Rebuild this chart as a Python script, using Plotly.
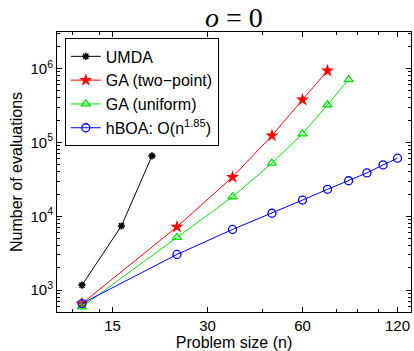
import plotly.graph_objects as go
import math

# Data
umda_n = [12, 16, 20]
umda_evals = [1170, 7400, 65800]

ga2_n = [12, 24, 36, 48, 60, 72]
ga2_evals = [660, 7200, 34000, 124000, 378000, 935000]

gau_n = [12, 24, 36, 48, 60, 72, 84]
gau_evals = [594, 5190, 18400, 52400, 131000, 324000, 708000]

hboa_n = [12, 24, 36, 48, 60, 72, 84, 96, 108, 120]
hboa_evals = [660, 3050, 6640, 11000, 16600, 23200, 30300, 38700, 49700, 61200]

x_ticks = [15, 30, 60, 120]
x_minor = [11.2, 13.6, 44.8, 76.9, 89.9, 104.3]
y_exps = [3, 4, 5, 6]
y_ticks = [10 ** e for e in y_exps]
y_ticktext = ["10<sup>%d</sup>" % e for e in y_exps]
y_minor = [m * 10 ** d for d in range(2, 7) for m in range(2, 10)]

FONT = "Liberation Sans, Arial, sans-serif"

fig = go.Figure()
fig.add_trace(go.Scatter(
    x=umda_n, y=umda_evals, name="UMDA", mode="lines+markers",
    line=dict(color="black", width=1),
    marker=dict(symbol="asterisk-open", size=6, color="black", line=dict(width=1.6, color="black"))))
fig.add_trace(go.Scatter(
    x=ga2_n, y=ga2_evals, name="GA (two\u2212point)", mode="lines+markers",
    line=dict(color="#ff0000", width=1),
    marker=dict(symbol="star", size=10, color="#ff0000", line=dict(width=0))))
fig.add_trace(go.Scatter(
    x=gau_n, y=gau_evals, name="GA (uniform)", mode="lines+markers",
    line=dict(color="#00e000", width=1),
    marker=dict(symbol="triangle-up-open", size=8, color="#00e000", line=dict(width=1.3))))
fig.add_trace(go.Scatter(
    x=hboa_n, y=hboa_evals, name="hBOA: O(n<sup>1.85</sup>)", mode="lines+markers",
    line=dict(color="#0000ff", width=1),
    marker=dict(symbol="circle-open", size=8, color="#0000ff", line=dict(width=1.3))))

axis_common = dict(
    showline=True, linecolor="black", linewidth=1, mirror="ticks",
    ticks="inside", ticklen=5, tickcolor="black", showgrid=False, zeroline=False,
    tickfont=dict(family=FONT, size=15, color="black"),
)

fig.update_xaxes(
    type="log", range=[math.log10(10.0), 2.122],
    tickmode="array", tickvals=x_ticks, ticktext=[str(v) for v in x_ticks],
    minor=dict(tickmode="array", tickvals=x_minor, ticks="inside", ticklen=3, tickcolor="black"),
    title=dict(text="Problem size (n)", font=dict(family=FONT, size=16, color="black"), standoff=1),
    **axis_common)
fig.update_yaxes(
    type="log", range=[2.705, 6.495],
    tickmode="array", tickvals=y_ticks, ticktext=y_ticktext,
    minor=dict(tickmode="array", tickvals=y_minor, ticks="inside", ticklen=3, tickcolor="black"),
    title=dict(text="Number of evaluations", font=dict(family=FONT, size=16, color="black"), standoff=3),
    **axis_common)

fig.update_layout(
    width=414, height=351,
    margin=dict(l=57, r=3, t=32, b=39),
    paper_bgcolor="white", plot_bgcolor="white",
    title=dict(text="<i>o</i> = 0", x=0.565, xanchor="center", y=0.98, yanchor="top",
               font=dict(family="Liberation Serif, DejaVu Serif, serif", size=28, color="black")),
    legend=dict(x=0.022, y=0.977, xanchor="left", yanchor="top",
                bordercolor="black", borderwidth=1, bgcolor="white",
                font=dict(family=FONT, size=16, color="black"),
                itemwidth=30, tracegroupgap=0),
    showlegend=True,
)

fig.write_html("out.html")
